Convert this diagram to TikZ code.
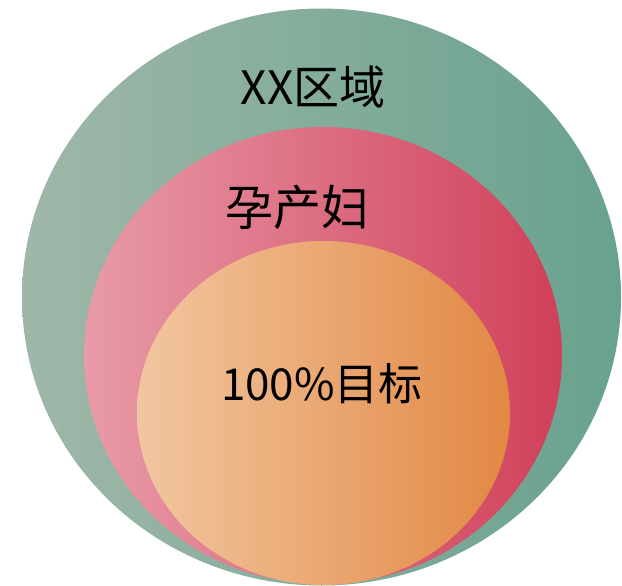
\documentclass[tikz,border=0pt]{standalone}
\usepackage{fontspec}
\newfontfamily\cjk{Noto Sans CJK SC}
\usetikzlibrary{shapes.geometric}
\definecolor{gL}{HTML}{A0B7A8}
\definecolor{gR}{HTML}{68A28E}
\definecolor{pL}{HTML}{E89BA8}
\definecolor{pR}{HTML}{D0405A}
\definecolor{oL}{HTML}{F2C6A0}
\definecolor{oR}{HTML}{E28844}
\tikzset{
  blob/.style={ellipse, inner sep=0pt, draw=none},
  lbl/.style={inner sep=0pt, text=black, font=\cjk\fontsize{44}{48}\selectfont}
}
\begin{document}
\begin{tikzpicture}[x=1pt,y=-1pt]
\useasboundingbox (0,0) rectangle (622,586);
\clip (0,0) rectangle (622,586);
\node[blob, minimum width=599pt, minimum height=577pt, left color=gL, right color=gR] (outer) at (321.5,297) {};
\node[blob, minimum width=478pt, minimum height=457pt, left color=pL, right color=pR] (mid) at (323,355.5) {};
\node[blob, minimum width=373pt, minimum height=344pt, left color=oL, right color=oR] (inner) at (323.5,413) {};
\node[lbl, font=\cjk\fontsize{46}{50}\selectfont] (t1) at (313,87.5) {XX区域};
\node[lbl, font=\cjk\fontsize{48}{52}\selectfont] (t2) at (297.5,207.5) {孕产妇};
\node[lbl] (t3) at (322,383.5) {100\%目标};
\end{tikzpicture}
\end{document}
